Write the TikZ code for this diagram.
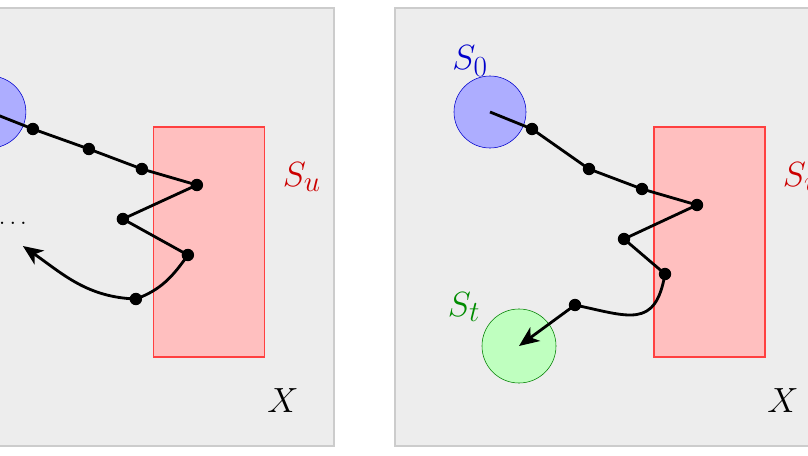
\documentclass[tikz,border=0pt]{standalone}
\usetikzlibrary{arrows.meta}

\tikzset{
  panel/.style={draw=gray!40, fill=gray!14, line width=1pt},
  initset/.style={circle, draw=blue!80!black, fill=blue!32, minimum size=1.8cm, inner sep=0pt},
  goalset/.style={circle, draw=green!50!black, fill=green!25, minimum size=1.85cm, inner sep=0pt},
  unsafeset/.style={draw=red!75, fill=red!25, line width=0.8pt},
  sample/.style={circle, fill=black, inner sep=0pt, minimum size=0.31cm},
  traj/.style={line width=2pt},
  tip/.style={-{Stealth[length=5mm,width=4.2mm,inset=1.4mm]}},
  lbl/.style={font=\Huge},
}

\begin{document}
\begin{tikzpicture}[x=0.025cm,y=0.025cm]
  \useasboundingbox (0,0) rectangle (808,455);
  \clip (0,0) rectangle (808,455);

  % left: trajectory that returns
  \begin{scope}[xshift=-12.5cm]
    \draw[panel] (395,9) rectangle (834,447);
    \draw[unsafeset] (654,98) rectangle (765,328);
    \node[lbl, text=red!80!black] (lSu) at (802,278) {$S_u$};
    \node[lbl] (lX) at (783,54) {$X$};
    \node[initset] (lS0) at (490,343) {};
    \node[lbl, text=blue!80!black] (lS0lbl) at (470,394) {$S_0$};
    \node[sample] (la1) at (533,326) {};
    \node[sample] (la2) at (589,306) {};
    \node[sample] (la3) at (642,286) {};
    \node[sample] (la4) at (697,270) {};
    \node[sample] (la5) at (623,236) {};
    \node[sample] (la6) at (688,200) {};
    \node[sample] (la7) at (636,156) {};
    \coordinate (lend) at (523,209);
    \node[font=\LARGE] (ldots) at (513,232) {$\ldots$};
    \draw[traj] (lS0.center) -- (la1.center) -- (la2.center) -- (la3.center)
      -- (la4.center) -- (la5.center) -- (la6.center)
      to[out=-125,in=20] (la7.center);
    \draw[traj,tip] (la7.center) to[out=178,in=-35] (lend);
  \end{scope}

  % right: trajectory that reaches the target
  \begin{scope}
    \draw[panel] (395,9) rectangle (834,447);
    \draw[unsafeset] (654,98) rectangle (765,328);
    \node[lbl, text=red!80!black] (rSu) at (802,278) {$S_u$};
    \node[lbl] (rX) at (783,54) {$X$};
    \node[initset] (rS0) at (490,343) {};
    \node[lbl, text=blue!80!black] (rS0lbl) at (470,394) {$S_0$};
    \node[goalset] (rSt) at (519,109) {};
    \node[lbl, text=green!55!black] (rStlbl) at (464,148) {$S_t$};
    \node[sample] (rb1) at (532,326) {};
    \node[sample] (rb2) at (589,286) {};
    \node[sample] (rb3) at (642,266) {};
    \node[sample] (rb4) at (697,250) {};
    \node[sample] (rb5) at (624,216) {};
    \node[sample] (rb6) at (665,181) {};
    \node[sample] (rb7) at (575,150) {};
    \draw[traj] (rS0.center) -- (rb1.center) -- (rb2.center) -- (rb3.center)
      -- (rb4.center) -- (rb5.center) -- (rb6.center)
      to[out=-100,in=-12,looseness=1.5] (rb7.center);
    \draw[traj,tip] (rb7.center) -- (rSt.center);
  \end{scope}
\end{tikzpicture}
\end{document}
